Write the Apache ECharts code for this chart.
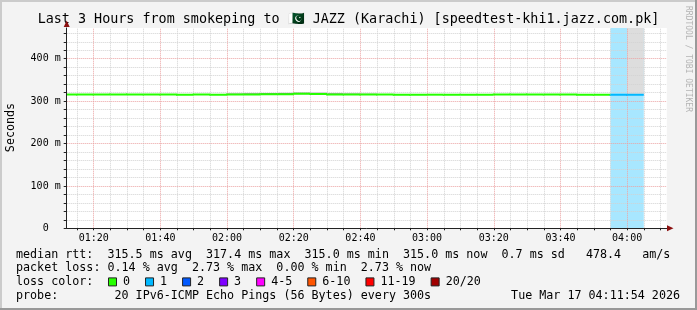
<!DOCTYPE html>
<html><head><meta charset="utf-8">
<script src="https://cdn.jsdelivr.net/npm/echarts@6/dist/echarts.min.js"></script>
<style>html,body{margin:0;padding:0;background:#f3f3f3}#c{width:697px;height:310px}</style>
</head><body><div id="c"></div>
<script>
// ---------- data ----------
const titleText = 'Last 3 Hours from smokeping to 🇵🇰 JAZZ (Karachi) [speedtest-khi1.jazz.com.pk]';
const yAxisName = 'Seconds';
const watermark = 'RRDTOOL / TOBI OETIKER';
const timeStart = '01:11:54';
const timeEnd = '04:11:54';
const xTickLabels = ['01:20','01:40','02:00','02:20','02:40','03:00','03:20','03:40','04:00'];
const yTickValues = [0, 100, 200, 300, 400];
const yTop = 472.5; // ms at top of the plot
// RRD 5-minute intervals (end time of each step)
const intervalEnd = ['01:15','01:20','01:25','01:30','01:35','01:40','01:45','01:50','01:55','02:00',
  '02:05','02:10','02:15','02:20','02:25','02:30','02:35','02:40','02:45','02:50',
  '02:55','03:00','03:05','03:10','03:15','03:20','03:25','03:30','03:35','03:40',
  '03:45','03:50','03:55','04:00','04:05'];
const medianRtt = [315.6,315.5,315.4,315.5,315.6,315.5,315.4,315.3,315.4,315.3,
  315.5,315.8,316.2,316.3,317.4,316.9,315.9,315.8,315.6,315.4,
  315.3,315.2,315.2,315.1,315.2,315.3,315.4,315.6,315.7,315.5,
  315.4,315.3,315.2,315.1,315.0];
const smokeLo = [315.6,315.5,315.4,315.5,315.6,315.5,315.4,315.3,315.4,315.3,
  315.0,315.0,315.3,315.4,316.4,316.0,315.0,315.0,315.0,315.4,
  315.3,315.2,315.2,315.1,315.2,315.3,315.4,315.6,315.7,315.5,
  315.4,315.3,315.2,315.1,315.0];
const smokeHi = [315.6,315.5,315.4,315.5,315.6,315.5,315.4,315.3,315.4,315.3,
  318.0,318.5,319.0,319.5,320.5,320.0,318.5,318.0,317.5,315.4,
  315.3,315.2,315.2,315.1,315.2,315.3,315.4,315.6,315.7,315.5,
  315.4,315.3,315.2,315.1,480.0];
const lossCount = [0,0,0,0,0,0,0,0,0,0, 0,0,0,0,0,0,0,0,0,0, 0,0,0,0,0,0,0,0,0,0, 0,0,0,1,1];
const lossLabels = ['0','1','2','3','4-5','6-10','11-19','20/20'];
const lossUpper  = [0, 1, 2, 3, 5, 10, 19, 20];
const lossColors = ['#26ff00','#00b8ff','#0059ff','#7e00ff','#ff00ff','#ff5500','#ff0000','#a10000'];
const statsRtt  = 'median rtt:  315.5 ms avg  317.4 ms max  315.0 ms min  315.0 ms now  0.7 ms sd   478.4   am/s';
const statsLoss = 'packet loss: 0.14 % avg  2.73 % max  0.00 % min  2.73 % now';
const lossTitle = 'loss color:';
const probeText = 'probe:        20 IPv6-ICMP Echo Pings (56 Bytes) every 300s';
const stampText = 'Tue Mar 17 04:11:54 2026';

// ---------- helpers ----------
const toMin = s => { const p = s.split(':').map(Number); return p[0]*60 + p[1] + (p[2]||0)/60; };
const pad = n => String(n).padStart(2,'0');
const fmt = v => pad(Math.floor(Math.round(v)/60)) + ':' + pad(Math.round(v)%60);
const xMin = toMin(timeStart), xMax = toMin(timeEnd);
const STEP = 5;
const tEnd = intervalEnd.map(toMin);
const xMajor = xTickLabels.map(toMin);
const xAll = []; for (let t = Math.ceil(xMin/STEP)*STEP; t < xMax; t += STEP) xAll.push(t);
const xMinor = xAll.filter(t => !xMajor.includes(t));
const yAll = []; for (let v = 0; v < yTop; v += 20) yAll.push(v);
const yMinor = yAll.filter(v => !yTickValues.includes(v));
const lossIdx = c => lossUpper.findIndex(u => c <= u);
const hexA = (hex, a) => { const n = parseInt(hex.slice(1),16); return `rgba(${n>>16},${(n>>8)&255},${n&255},${a})`; };

const MONO = '"DejaVu Sans Mono", monospace';
const minorStyle = {color:'#d2d2d2', type:[1,1], width:1};
const majorStyle = {color:'#eba3a3', type:[1,1], width:1};

const chart = echarts.init(document.getElementById('c'), null, {renderer:'canvas'});

const seriesData = tEnd.map((t,i) => [t, medianRtt[i], lossCount[i], i, smokeLo[i], smokeHi[i]]);

// legend graphics
const legendEls = [];
const rowY = [254.5, 268.4, 282.4, 296.2];
const txt = (x, y, s, align) => ({type:'text', x, y, silent:true,
  style:{text:s, font:'11.7px ' + MONO, fill:'#000', align: align||'left', verticalAlign:'middle'}});
legendEls.push(txt(16, rowY[0], statsRtt));
legendEls.push(txt(16, rowY[1], statsLoss));
legendEls.push(txt(16, rowY[2], lossTitle));
let lx = 108;
lossLabels.forEach((lab, i) => {
  legendEls.push({type:'rect', silent:true, shape:{x:lx+0.5, y:rowY[2]-4.5, width:8, height:8},
    style:{fill:lossColors[i], stroke:'#222', lineWidth:1}});
  legendEls.push(txt(lx+15, rowY[2], lab));
  lx += 30 + 7.04*lab.length;
});
legendEls.push(txt(16, rowY[3], probeText));
legendEls.push(txt(680, rowY[3], stampText, 'right'));

const option = {
  animation:false,
  backgroundColor:'#f3f3f3',
  grid:{left:66.7, top:28, width:600.1, height:200.3, show:true, backgroundColor:'#ffffff', borderWidth:0},
  xAxis:{type:'value', min:xMin, max:xMax, z:10,
    splitLine:{show:false},
    axisLine:{show:true, onZero:false, lineStyle:{color:'#222', width:1}},
    axisTick:{show:true, length:2, customValues:xAll, lineStyle:{color:'#222'}},
    axisLabel:{customValues:xMajor, formatter:fmt, fontFamily:MONO, fontSize:10, color:'#000', margin:5}},
  yAxis:{type:'value', min:0, max:yTop, interval:100, z:10,
    splitLine:{show:false},
    axisLine:{show:true, lineStyle:{color:'#222', width:1}},
    axisTick:{show:true, length:3, customValues:yAll, lineStyle:{color:'#222'}},
    axisLabel:{show:true, showMaxLabel:false, fontFamily:MONO, fontSize:10, color:'#000', margin:6,
      formatter: v => v === 0 ? '0  ' : v + ' m'}},
  series:[
    { // loss background bands
      type:'custom', z:1, silent:true, data:seriesData, encode:{x:0, y:1},
      renderItem:(p, api) => {
        const c = api.value(2); if (!c) return null;
        const x0 = Math.max(api.value(0) - STEP, xMin);
        const a = api.coord([x0, yTop]), b = api.coord([api.value(0), 0]);
        return {type:'rect', shape:{x:a[0], y:a[1], width:b[0]-a[0], height:b[1]-a[1]},
          style:{fill:hexA(lossColors[lossIdx(c)], 0.34)}};
      }},
    { // smoke
      type:'custom', z:2, silent:true, data:seriesData, encode:{x:0, y:1},
      renderItem:(p, api) => {
        const lo = api.value(4), hi = Math.min(api.value(5), yTop);
        if (hi - lo <= 0) return null;
        const x0 = Math.max(api.value(0) - STEP, xMin);
        const a = api.coord([x0, hi]), b = api.coord([api.value(0), lo]);
        return {type:'rect', shape:{x:a[0], y:a[1], width:b[0]-a[0], height:b[1]-a[1]},
          style:{fill: (hi - lo) > 50 ? '#dddddd' : '#8a8a8a'}};
      }},
    { // grid lines
      type:'line', z:3, data:[], silent:true,
      markLine:{silent:true, symbol:['none','none'], label:{show:false}, animation:false,
        data:[
          ...xMinor.map(v => ({xAxis:v, lineStyle:minorStyle})),
          ...yMinor.map(v => ({yAxis:v, lineStyle:minorStyle})),
          ...xMajor.map(v => ({xAxis:v, lineStyle:majorStyle})),
          ...yTickValues.filter(v => v > 0).map(v => ({yAxis:v, lineStyle:majorStyle}))
        ]}},
    { // median rtt coloured by loss
      type:'custom', z:5, silent:true, data:seriesData, encode:{x:0, y:1},
      renderItem:(p, api) => {
        const i = api.value(3), t = api.value(0), m = api.value(1);
        const x0 = Math.max(t - STEP, xMin);
        const pts = [];
        if (i > 0) pts.push(api.coord([x0, medianRtt[i-1]]));
        pts.push(api.coord([x0, m]), api.coord([t, m]));
        return {type:'polyline', shape:{points:pts},
          style:{stroke:lossColors[lossIdx(api.value(2))], lineWidth:2, fill:null}};
      }}
  ],
  graphic:[
    {type:'rect', silent:true, shape:{x:0, y:0, width:697, height:2}, style:{fill:'#cbcbcb'}},
    {type:'rect', silent:true, shape:{x:0, y:0, width:2, height:310}, style:{fill:'#cbcbcb'}},
    {type:'rect', silent:true, shape:{x:695, y:0, width:2, height:310}, style:{fill:'#999999'}},
    {type:'rect', silent:true, shape:{x:0, y:308, width:697, height:2}, style:{fill:'#999999'}},
    {type:'text', x:348.5, y:19.5, silent:true,
      style:{text:titleText, font:'13.4px ' + MONO, fill:'#000', align:'center', verticalAlign:'middle'}},
    {type:'text', x:10.5, y:127.5, rotation:Math.PI/2, silent:true,
      style:{text:yAxisName, font:'11.7px ' + MONO, fill:'#000', align:'center', verticalAlign:'middle'}},
    {type:'text', x:688, y:59, rotation:-Math.PI/2, silent:true,
      style:{text:watermark, font:'8px ' + MONO, fill:'#b4b4b4', align:'center', verticalAlign:'middle'}},
    {type:'polygon', silent:true, z:20, shape:{points:[[63.7,27],[69.7,27],[66.7,20.5]]}, style:{fill:'#8b1010'}},
    {type:'polygon', silent:true, z:20, shape:{points:[[667,225.3],[667,231.3],[673.5,228.3]]}, style:{fill:'#8b1010'}},
    ...legendEls
  ]
};
chart.setOption(option);
</script>
</body></html>
